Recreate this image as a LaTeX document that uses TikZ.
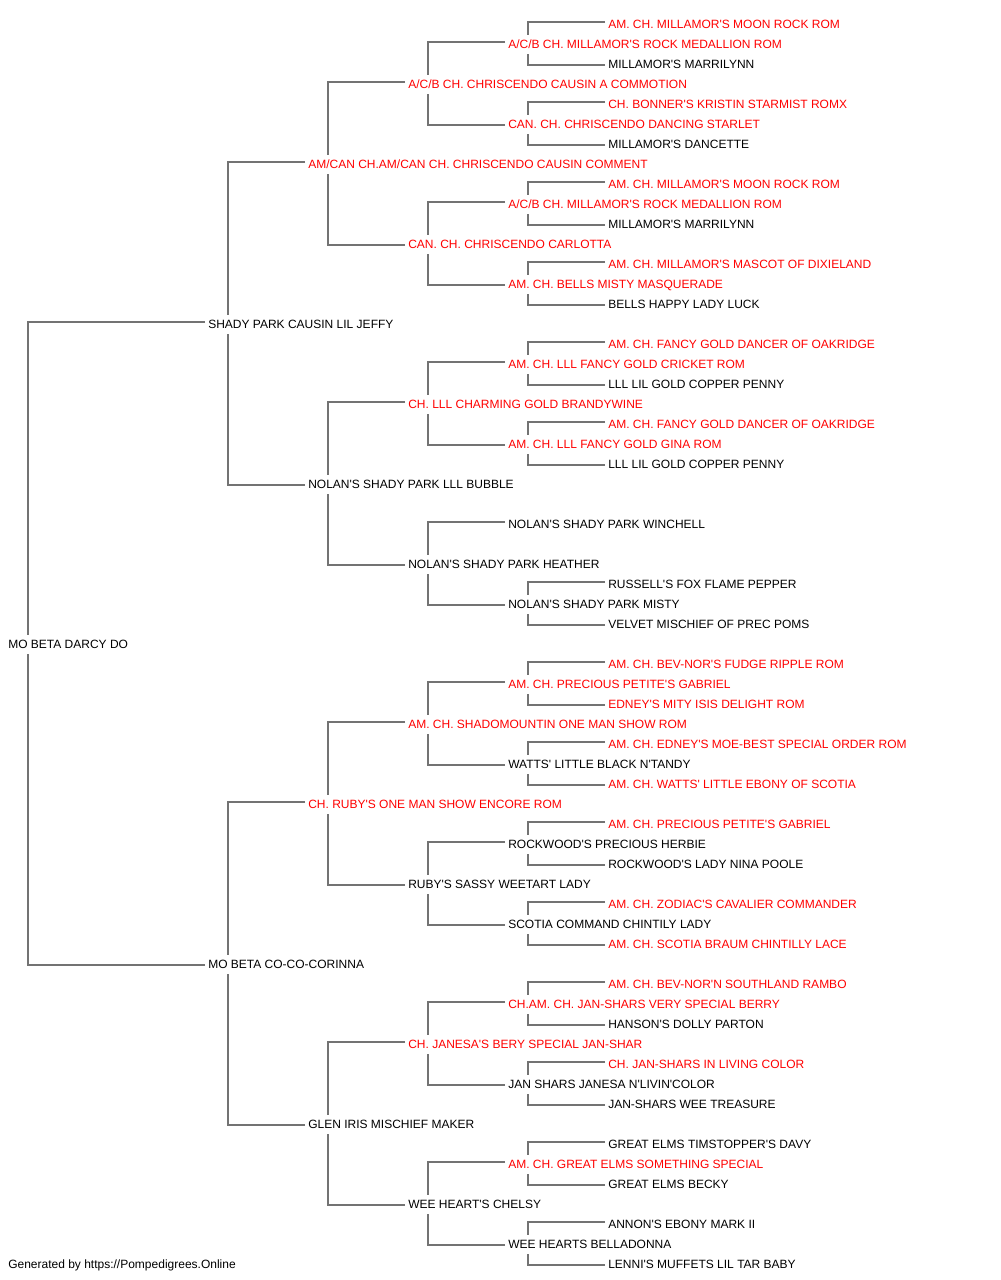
\documentclass[tikz,border=0pt]{standalone}
\usepackage{fontspec}
\newfontfamily\pedfont{Liberation Sans}
\definecolor{pedred}{HTML}{FF0000}
\definecolor{linkgrey}{HTML}{737373}
\tikzset{
  ped/.style={anchor=west, inner sep=0pt, text height=7.95pt, text depth=0pt,
    font=\pedfont\fontsize{9pt}{11pt}\selectfont, text=black},
  pr/.style={ped, text=pedred},
  link/.style={draw=linkgrey, line width=1.15pt},
}
\begin{document}
\begin{tikzpicture}[x=0.75pt,y=-0.75pt]
\useasboundingbox (0,0) rectangle (1000,1280);
% generation 0
\node[ped] (g0i0) at (8,643) {MO BETA DARCY DO};
% generation 1
\node[ped] (g1i0) at (208,323) {SHADY PARK CAUSIN LIL JEFFY};
\node[ped] (g1i1) at (208,963) {MO BETA CO-CO-CORINNA};
% generation 2
\node[pr]  (g2i0) at (308,163) {AM/CAN CH.AM/CAN CH. CHRISCENDO CAUSIN COMMENT};
\node[ped] (g2i1) at (308,483) {NOLAN'S SHADY PARK LLL BUBBLE};
\node[pr]  (g2i2) at (308,803) {CH. RUBY'S ONE MAN SHOW ENCORE ROM};
\node[ped] (g2i3) at (308,1123) {GLEN IRIS MISCHIEF MAKER};
% generation 3
\node[pr]  (g3i0) at (408,83) {A/C/B CH. CHRISCENDO CAUSIN A COMMOTION};
\node[pr]  (g3i1) at (408,243) {CAN. CH. CHRISCENDO CARLOTTA};
\node[pr]  (g3i2) at (408,403) {CH. LLL CHARMING GOLD BRANDYWINE};
\node[ped] (g3i3) at (408,563) {NOLAN'S SHADY PARK HEATHER};
\node[pr]  (g3i4) at (408,723) {AM. CH. SHADOMOUNTIN ONE MAN SHOW ROM};
\node[ped] (g3i5) at (408,883) {RUBY'S SASSY WEETART LADY};
\node[pr]  (g3i6) at (408,1043) {CH. JANESA'S BERY SPECIAL JAN-SHAR};
\node[ped] (g3i7) at (408,1203) {WEE HEART'S CHELSY};
% generation 4
\node[pr]  (g4i0) at (508,43) {A/C/B CH. MILLAMOR'S ROCK MEDALLION ROM};
\node[pr]  (g4i1) at (508,123) {CAN. CH. CHRISCENDO DANCING STARLET};
\node[pr]  (g4i2) at (508,203) {A/C/B CH. MILLAMOR'S ROCK MEDALLION ROM};
\node[pr]  (g4i3) at (508,283) {AM. CH. BELLS MISTY MASQUERADE};
\node[pr]  (g4i4) at (508,363) {AM. CH. LLL FANCY GOLD CRICKET ROM};
\node[pr]  (g4i5) at (508,443) {AM. CH. LLL FANCY GOLD GINA ROM};
\node[ped] (g4i6) at (508,523) {NOLAN'S SHADY PARK WINCHELL};
\node[ped] (g4i7) at (508,603) {NOLAN'S SHADY PARK MISTY};
\node[pr]  (g4i8) at (508,683) {AM. CH. PRECIOUS PETITE'S GABRIEL};
\node[ped] (g4i9) at (508,763) {WATTS' LITTLE BLACK N'TANDY};
\node[ped] (g4i10) at (508,843) {ROCKWOOD'S PRECIOUS HERBIE};
\node[ped] (g4i11) at (508,923) {SCOTIA COMMAND CHINTILY LADY};
\node[pr]  (g4i12) at (508,1003) {CH.AM. CH. JAN-SHARS VERY SPECIAL BERRY};
\node[ped] (g4i13) at (508,1083) {JAN SHARS JANESA N'LIVIN'COLOR};
\node[pr]  (g4i14) at (508,1163) {AM. CH. GREAT ELMS SOMETHING SPECIAL};
\node[ped] (g4i15) at (508,1243) {WEE HEARTS BELLADONNA};
% generation 5
\node[pr]  (g5i0) at (608,23) {AM. CH. MILLAMOR'S MOON ROCK ROM};
\node[ped] (g5i1) at (608,63) {MILLAMOR'S MARRILYNN};
\node[pr]  (g5i2) at (608,103) {CH. BONNER'S KRISTIN STARMIST ROMX};
\node[ped] (g5i3) at (608,143) {MILLAMOR'S DANCETTE};
\node[pr]  (g5i4) at (608,183) {AM. CH. MILLAMOR'S MOON ROCK ROM};
\node[ped] (g5i5) at (608,223) {MILLAMOR'S MARRILYNN};
\node[pr]  (g5i6) at (608,263) {AM. CH. MILLAMOR'S MASCOT OF DIXIELAND};
\node[ped] (g5i7) at (608,303) {BELLS HAPPY LADY LUCK};
\node[pr]  (g5i8) at (608,343) {AM. CH. FANCY GOLD DANCER OF OAKRIDGE};
\node[ped] (g5i9) at (608,383) {LLL LIL GOLD COPPER PENNY};
\node[pr]  (g5i10) at (608,423) {AM. CH. FANCY GOLD DANCER OF OAKRIDGE};
\node[ped] (g5i11) at (608,463) {LLL LIL GOLD COPPER PENNY};
\node[ped] (g5i14) at (608,583) {RUSSELL'S FOX FLAME PEPPER};
\node[ped] (g5i15) at (608,623) {VELVET MISCHIEF OF PREC POMS};
\node[pr]  (g5i16) at (608,663) {AM. CH. BEV-NOR'S FUDGE RIPPLE ROM};
\node[pr]  (g5i17) at (608,703) {EDNEY'S MITY ISIS DELIGHT ROM};
\node[pr]  (g5i18) at (608,743) {AM. CH. EDNEY'S MOE-BEST SPECIAL ORDER ROM};
\node[pr]  (g5i19) at (608,783) {AM. CH. WATTS' LITTLE EBONY OF SCOTIA};
\node[pr]  (g5i20) at (608,823) {AM. CH. PRECIOUS PETITE'S GABRIEL};
\node[ped] (g5i21) at (608,863) {ROCKWOOD'S LADY NINA POOLE};
\node[pr]  (g5i22) at (608,903) {AM. CH. ZODIAC'S CAVALIER COMMANDER};
\node[pr]  (g5i23) at (608,943) {AM. CH. SCOTIA BRAUM CHINTILLY LACE};
\node[pr]  (g5i24) at (608,983) {AM. CH. BEV-NOR'N SOUTHLAND RAMBO};
\node[ped] (g5i25) at (608,1023) {HANSON'S DOLLY PARTON};
\node[pr]  (g5i26) at (608,1063) {CH. JAN-SHARS IN LIVING COLOR};
\node[ped] (g5i27) at (608,1103) {JAN-SHARS WEE TREASURE};
\node[ped] (g5i28) at (608,1143) {GREAT ELMS TIMSTOPPER'S DAVY};
\node[ped] (g5i29) at (608,1183) {GREAT ELMS BECKY};
\node[ped] (g5i30) at (608,1223) {ANNON'S EBONY MARK II};
\node[ped] (g5i31) at (608,1263) {LENNI'S MUFFETS LIL TAR BABY};
% footer
\node[ped] (footer) at (8,1263) {Generated by https://Pompedigrees.Online};
% connectors
\foreach \c/\s/\d in {
  g0i0/g1i0/g1i1,
  g1i0/g2i0/g2i1, g1i1/g2i2/g2i3,
  g2i0/g3i0/g3i1, g2i1/g3i2/g3i3, g2i2/g3i4/g3i5, g2i3/g3i6/g3i7,
  g3i0/g4i0/g4i1, g3i1/g4i2/g4i3, g3i2/g4i4/g4i5, g3i3/g4i6/g4i7,
  g3i4/g4i8/g4i9, g3i5/g4i10/g4i11, g3i6/g4i12/g4i13, g3i7/g4i14/g4i15,
  g4i0/g5i0/g5i1, g4i1/g5i2/g5i3, g4i2/g5i4/g5i5, g4i3/g5i6/g5i7,
  g4i4/g5i8/g5i9, g4i5/g5i10/g5i11, g4i7/g5i14/g5i15,
  g4i8/g5i16/g5i17, g4i9/g5i18/g5i19, g4i10/g5i20/g5i21, g4i11/g5i22/g5i23,
  g4i12/g5i24/g5i25, g4i13/g5i26/g5i27, g4i14/g5i28/g5i29, g4i15/g5i30/g5i31}
{
  \draw[link] ([xshift=-2.25pt,yshift=0.75pt]\s.west) -| ([xshift=15pt,yshift=6pt]\c.west);
  \draw[link] ([xshift=-2.25pt,yshift=-1.5pt]\d.west) -| ([xshift=15pt,yshift=-8.25pt]\c.west);
}
\end{tikzpicture}
\end{document}
